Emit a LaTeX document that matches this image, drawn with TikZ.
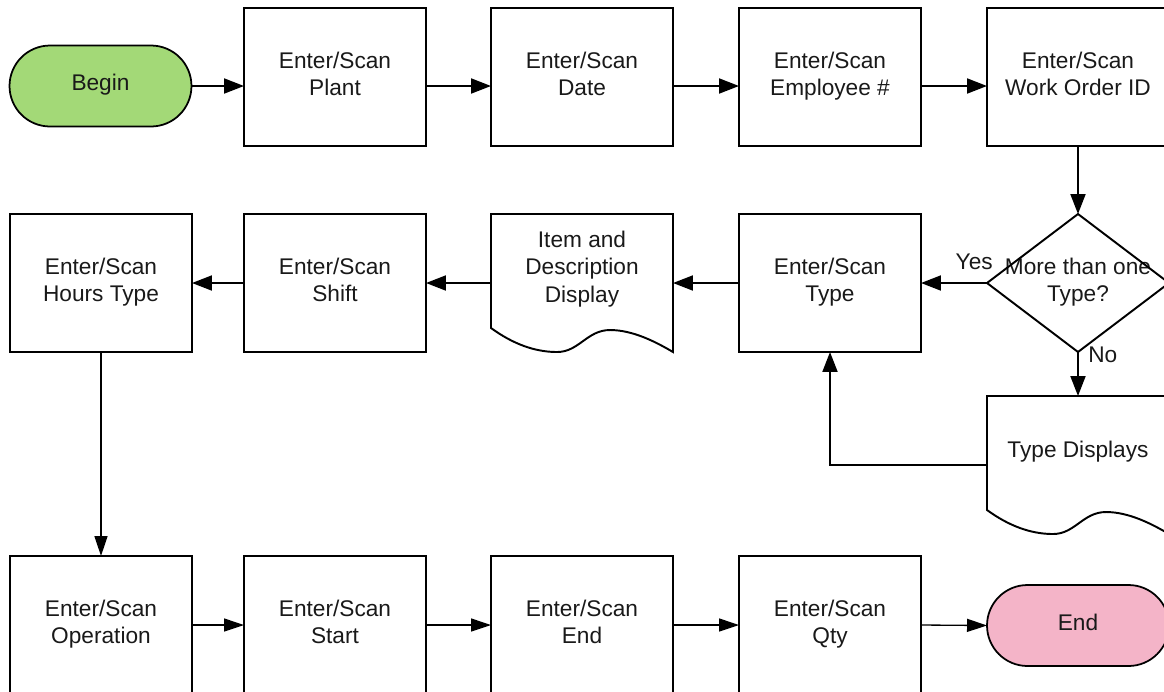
\documentclass[tikz,border=0pt]{standalone}
\usepackage{fontspec}
\setmainfont{Liberation Sans}
\usetikzlibrary{arrows.meta,calc}
\definecolor{begingreen}{HTML}{A3D977}
\definecolor{endpink}{HTML}{F4B4C8}
\newcommand{\fixstrut}{\rule[-3.7pt]{0pt}{13pt}}
\begin{document}
\begin{tikzpicture}[x=0.02cm,y=-0.02cm,
 txt/.style={font=\fontsize{12.9}{15.4}\selectfont, align=center, text=black!90,
   execute at begin node=\fixstrut, execute at end node=\fixstrut},
 proc/.style={txt, draw, line width=1.1pt, minimum width=3.64cm, minimum height=2.76cm, inner sep=0pt, outer sep=0pt},
 shapebox/.style={txt, minimum width=3.64cm, minimum height=2.76cm, inner sep=0pt, outer sep=0pt},
 term/.style={txt, draw, line width=1pt, rounded corners=0.81cm, minimum width=3.64cm, minimum height=1.62cm, inner sep=0pt, outer sep=0pt},
 outline/.style={line width=1.1pt, line join=miter},
 arr/.style={line width=1.1pt, -{Triangle[length=0.4cm,width=0.3cm]}},
 arrthin/.style={line width=0.75pt, -{Triangle[length=0.4cm,width=0.26cm]}},
 lbl/.style={font=\fontsize{12.9}{15.4}\selectfont, inner sep=0pt, text=black!90}
]
\path[use as bounding box] (0,0) rectangle (1164,691);
\clip (0,0) rectangle (1164,691);

% row 1
\node[term, fill=begingreen] (begin) at (100.5,86) {Begin};
\node[proc] (plant) at (335,77) {Enter/Scan\\Plant};
\node[proc] (date) at (582,77) {Enter/Scan\\Date};
\node[proc] (emp) at (830,77) {Enter/Scan\\Employee \#};
\node[proc] (wo) at (1078,77) {Enter/Scan\\Work Order ID};

% row 2
\node[shapebox] (dec) at (1078,283) {More than one\\Type?};
\draw[outline] (dec.north) -- (dec.east) -- (dec.south) -- (dec.west) -- cycle;
\node[proc] (type) at (830,283) {Enter/Scan\\Type};
\node[shapebox] (item) at (582,283) {};
\begin{scope}[shift={(item.north west)}]
\draw[outline] (0,0) -- (182,0) -- (182,138) .. controls (165,128) and (142,116) .. (119,116) .. controls (96,116) and (88,138) .. (66,138) .. controls (44,138) and (22,130) .. (0,114) -- cycle;
\end{scope}
\node[txt] (itemtxt) at (582,270) {Item and\\Description\\Display};
\node[proc] (shift) at (335,283) {Enter/Scan\\Shift};
\node[proc] (hours) at (101,283) {Enter/Scan\\Hours Type};

\node[shapebox] (tdisp) at (1078,465) {};
\begin{scope}[shift={(tdisp.north west)}]
\draw[outline] (0,0) -- (182,0) -- (182,138) .. controls (165,128) and (142,116) .. (119,116) .. controls (96,116) and (88,138) .. (66,138) .. controls (44,138) and (22,130) .. (0,114) -- cycle;
\end{scope}
\node[txt] (tdisptxt) at (1078,453) {Type Displays};

% row 3
\node[proc] (oper) at (101,625) {Enter/Scan\\Operation};
\node[proc] (start) at (335,625) {Enter/Scan\\Start};
\node[proc] (endscan) at (582,625) {Enter/Scan\\End};
\node[proc] (qty) at (830,625) {Enter/Scan\\Qty};
\node[term, fill=endpink] (finish) at (1078,625.5) {End};

% connectors
\draw[arr] (begin.east) -- (begin.east -| plant.west);
\draw[arr] (plant.east |- begin.east) -- (date.west |- begin.east);
\draw[arr] (date.east |- begin.east) -- (emp.west |- begin.east);
\draw[arr] (emp.east |- begin.east) -- (wo.west |- begin.east);
\draw[arr] (wo.south) -- (dec.north);
\draw[arr] (dec.west) -- (type.east);
\node[lbl, anchor=base east] (yes) at ([shift={(6,-14)}]dec.west) {Yes};
\draw[arr] (dec.south) -- (tdisp.north);
\node[lbl, anchor=base west] (no) at ([shift={(10,11)}]dec.south) {No};
\draw[arr] (tdisp.west) -| (type.south);
\draw[arr] (type.west) -- (item.east);
\draw[arr] (item.west) -- (shift.east);
\draw[arr] (shift.west) -- (hours.east);
\draw[arrthin] (hours.south) -- (oper.north);
\draw[arrthin] (oper.east) -- (start.west);
\draw[arrthin] (start.east) -- (endscan.west);
\draw[arrthin] (endscan.east) -- (qty.west);
\draw[arrthin] (qty.east) -- (finish.west);
\end{tikzpicture}
\end{document}
